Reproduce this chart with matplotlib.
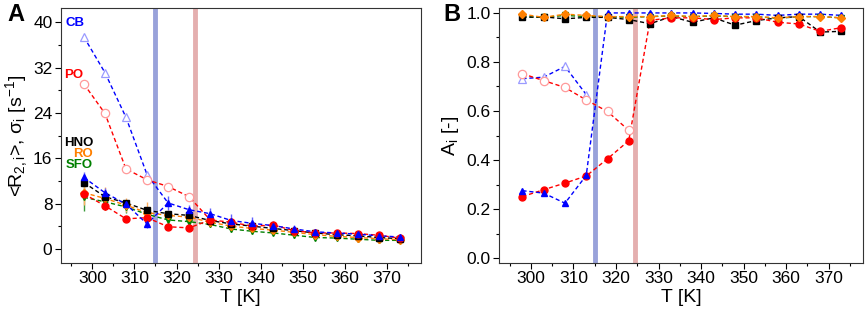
import matplotlib
matplotlib.use('Agg')
import matplotlib.pyplot as plt
from matplotlib.ticker import MultipleLocator, FormatStrFormatter

plt.rcParams.update({
    'font.family': ['Liberation Sans', 'DejaVu Sans'],
    'font.size': 12,
    'mathtext.default': 'regular',
    'axes.linewidth': 0.8,
    'xtick.direction': 'out', 'ytick.direction': 'out',
    'xtick.major.size': 4, 'ytick.major.size': 4,
    'xtick.minor.size': 2.5, 'ytick.minor.size': 2.5,
    'xtick.major.width': 0.8, 'ytick.major.width': 0.8,
    'xtick.minor.width': 0.8, 'ytick.minor.width': 0.8,
})

C_BLUE = '#0000ff'
C_RED = '#ff0000'
C_BLACK = '#000000'
C_ORANGE = '#ff8000'
C_GREEN = '#008000'
C_LBLUE = '#9a9aff'
C_LRED = '#ff9a9a'

# temperatures [K]
T = [298, 303, 308, 313, 318, 323, 328, 333, 338, 343, 348, 353, 358, 363, 368, 373]
T_cb_open = [298, 303, 308, 313]
T_po_open = [298, 303, 308, 313, 318, 323]

# panel A: <R2,i>, sigma_i [s^-1]
r_cb = [12.6, 9.9, 7.9, 4.4, 8.1, 6.9, 6.2, 5.0, 4.5, 4.1, 3.5, 3.0, 2.8, 2.6, 2.3, 2.1]
r_hno = [11.7, 9.2, 8.1, 6.8, 6.2, 5.9, 5.0, 4.4, 4.0, 3.6, 3.2, 2.8, 2.5, 2.3, 2.0, 1.8]
r_ro = [9.9, 8.9, 7.7, 6.4, 5.9, 5.6, 4.7, 4.0, 3.6, 3.3, 2.9, 2.5, 2.2, 2.0, 1.8, 1.6]
r_sfo = [9.1, 8.3, 7.4, 6.1, 5.1, 4.8, 4.3, 3.5, 3.1, 2.8, 2.4, 2.0, 1.9, 1.7, 1.5, 1.5]
r_po = [9.7, 7.6, 5.3, 5.5, 3.9, 3.7, 5.1, 4.7, 4.0, 4.2, 3.2, 2.8, 2.8, 2.7, 2.4, 1.9]
r_cb_open = [37.4, 31.1, 23.2, 13.1]
r_po_open = [29.1, 23.9, 14.1, 12.2, 11.0, 9.2]

err_cb = [1.0, 0.8, 0.6, 0.8, 1.2, 0.8, 1.0, 1.2, 1.2, 0.8, 0.7, 0.5, 0.4, 0.3, 0.3, 0.3]
err_ro = [2.2, 2.0, 1.2, 1.8, 1.0, 0.8, 0.9, 0.9, 0.9, 0.7, 0.6, 0.5, 0.5, 0.4, 0.4, 0.4]
err_sfo = [2.5, 1.5, 1.0, 1.0, 0.8, 0.6, 0.5, 0.5, 0.5, 0.4, 0.4, 0.3, 0.3, 0.3, 0.3, 0.3]
err_po = [0.8, 0.8, 0.5, 0.6, 0.4, 0.4, 0.8, 0.6, 0.6, 0.6, 0.4, 0.4, 0.4, 0.4, 0.3, 0.3]

# panel B: A_i [-]
a_cb = [0.275, 0.265, 0.224, 0.337, 1.0, 1.0, 1.0, 1.0, 1.0, 0.998, 0.995, 0.995, 0.99, 0.995, 0.995, 0.99]
a_po = [0.251, 0.279, 0.306, 0.335, 0.405, 0.479, 0.97, 0.98, 0.98, 0.973, 0.98, 0.98, 0.962, 0.955, 0.925, 0.94]
a_hno = [0.982, 0.984, 0.976, 0.982, 0.982, 0.973, 0.956, 0.985, 0.962, 0.98, 0.95, 0.969, 0.98, 0.985, 0.922, 0.925]
a_ro = [0.995, 0.982, 0.995, 0.99, 0.985, 0.985, 0.985, 0.99, 0.985, 0.99, 0.985, 0.985, 0.98, 0.985, 0.985, 0.98]
a_sfo = [0.985, 0.982, 0.99, 0.985, 0.985, 0.982, 0.985, 0.988, 0.985, 0.988, 0.985, 0.985, 0.978, 0.985, 0.985, 0.98]
a_cb_open = [0.732, 0.738, 0.782, 0.667]
a_po_open = [0.752, 0.724, 0.696, 0.645, 0.598, 0.521]

T_TRANS_CB = 315.0
T_TRANS_PO = 324.5

DASH = (0, (3, 2))

fig = plt.figure(figsize=(8.65, 3.14), dpi=100)
axA = fig.add_axes([0.0702, 0.1624, 0.4162, 0.812])
axB = fig.add_axes([0.5769, 0.1624, 0.4205, 0.812])


def series(ax, x, y, color, marker, yerr=None, ms=5, ecol=None):
    ax.plot(x, y, ls=DASH, lw=1.0, color=color, zorder=3)
    if yerr is not None:
        ax.errorbar(x, y, yerr=yerr, fmt='none', ecolor=ecol or color, elinewidth=1.0, capsize=0, zorder=2)
    ax.plot(x, y, ls='none', marker=marker, ms=ms, color=color, mec=color, zorder=4)


def open_series(ax, x, y, color, lcolor, marker, x_next=None, y_next=None):
    xs, ys = list(x), list(y)
    if x_next is not None:
        xs.append(x_next)
        ys.append(y_next)
    ax.plot(xs, ys, ls=DASH, lw=1.0, color=color, zorder=3)
    ax.plot(x, y, ls='none', marker=marker, ms=6, mfc='white', mec=lcolor, mew=0.9, zorder=4)


for ax in (axA, axB):
    ax.axvline(T_TRANS_CB, color='#8e98d6', lw=3.5, alpha=0.9, zorder=1)
    ax.axvline(T_TRANS_PO, color='#e2a6a6', lw=3.5, alpha=0.9, zorder=1)

# ---- panel A
series(axA, T, r_sfo, C_GREEN, 'v', err_sfo, ecol='#3a9a3a')
series(axA, T, r_ro, C_ORANGE, 'D', err_ro, ms=4.5, ecol='#ffae60')
series(axA, T, r_hno, C_BLACK, 's', None, ms=4.5)
series(axA, T, r_po, C_RED, 'o', err_po)
series(axA, T, r_cb, C_BLUE, '^', err_cb, ecol='#6060ff')
open_series(axA, T_cb_open, r_cb_open, C_BLUE, C_LBLUE, '^', T[4], r_cb[4])
open_series(axA, T_po_open, r_po_open, C_RED, C_LRED, 'o', T[6], r_po[6])

axA.text(293.7, 39.8, 'CB', color=C_BLUE, fontsize=9.5, fontweight='bold', va='center')
axA.text(293.4, 30.6, 'PO', color=C_RED, fontsize=9.5, fontweight='bold', va='center')
axA.text(293.2, 18.7, 'HNO', color=C_BLACK, fontsize=9.5, fontweight='bold', va='center')
axA.text(295.5, 16.8, 'RO', color=C_ORANGE, fontsize=9.5, fontweight='bold', va='center')
axA.text(293.7, 14.8, 'SFO', color=C_GREEN, fontsize=9.5, fontweight='bold', va='center')

axA.set_ylim(-2.5, 42.5)
axA.yaxis.set_major_locator(MultipleLocator(8))
axA.yaxis.set_minor_locator(MultipleLocator(4))
axA.set_ylabel('<R$_{2,i}$>, σ$_i$ [s$^{-1}$]', fontsize=14, labelpad=2)

# ---- panel B
series(axB, T, a_sfo, C_GREEN, 'v')
series(axB, T, a_hno, C_BLACK, 's', ms=4.5)
series(axB, T, a_po, C_RED, 'o')
series(axB, T, a_cb, C_BLUE, '^')
series(axB, T, a_ro, C_ORANGE, 'D', ms=4.5)
open_series(axB, T_cb_open, a_cb_open, C_BLUE, C_LBLUE, '^')
open_series(axB, T_po_open, a_po_open, C_RED, C_LRED, 'o')

axB.set_ylim(-0.02, 1.02)
axB.yaxis.set_major_locator(MultipleLocator(0.2))
axB.yaxis.set_minor_locator(MultipleLocator(0.1))
axB.yaxis.set_major_formatter(FormatStrFormatter('%.1f'))
axB.set_ylabel('A$_i$ [-]', fontsize=14, labelpad=4)

for ax in (axA, axB):
    ax.set_xlim(292.5, 378)
    ax.xaxis.set_major_locator(MultipleLocator(10))
    ax.xaxis.set_minor_locator(MultipleLocator(5))
    ax.set_xlabel('T [K]', fontsize=14, labelpad=2)
    ax.tick_params(labelsize=12.5, pad=2)
    for s in ax.spines.values():
        s.set_color('#333333')

fig.text(0.008, 0.955, 'A', fontsize=17, fontweight='bold', va='center')
fig.text(0.513, 0.955, 'B', fontsize=17, fontweight='bold', va='center')

fig.savefig('out.png', dpi=100)
